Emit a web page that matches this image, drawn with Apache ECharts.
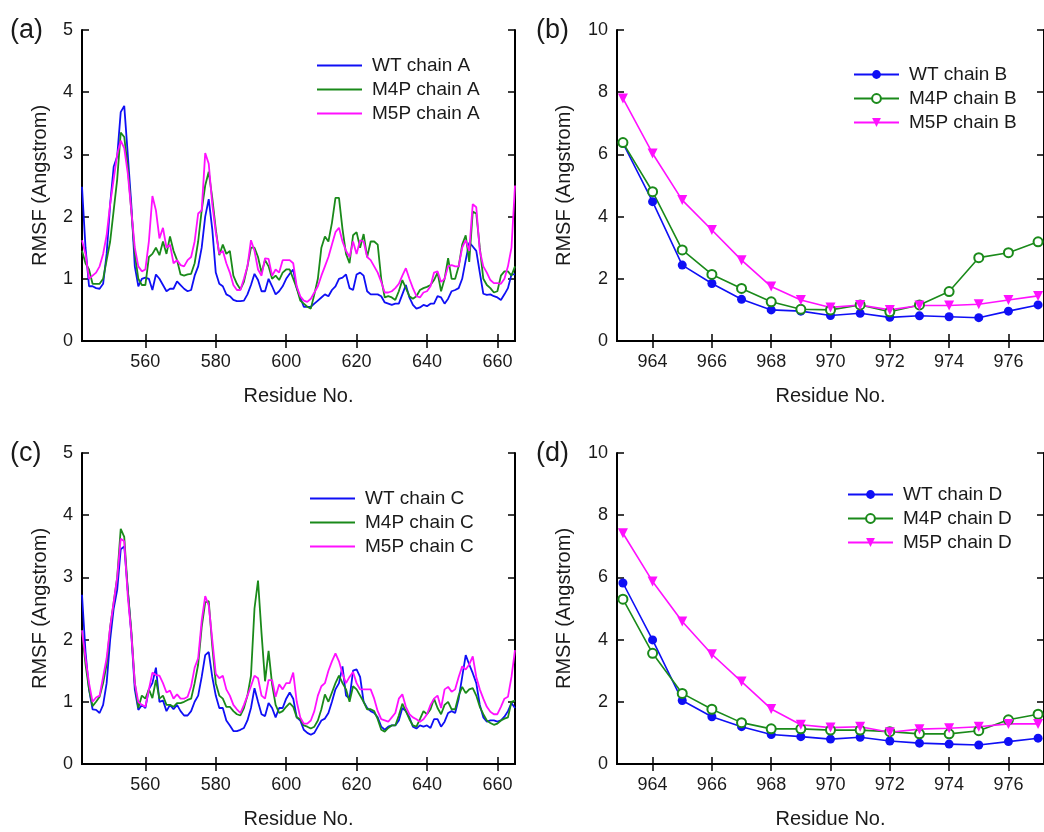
<!DOCTYPE html>
<html>
<head>
<meta charset="utf-8">
<script src="https://cdn.jsdelivr.net/npm/echarts@6/dist/echarts.min.js"></script>
<style>
html,body{margin:0;padding:0;background:#fff;}
#chart{width:1044px;height:832px;}
</style>
</head>
<body>
<div id="chart"></div>
<script>
// ---------------- DATA ----------------
const residueStartAC = 542;           // first residue of panels (a) and (c)
const residueEndAC = 665;
const residuesBD = [963, 964, 965, 966, 967, 968, 969, 970, 971, 972, 973, 974, 975, 976, 977];
const xTicksAC = [560, 580, 600, 620, 640, 660];
const xTicksBD = [964, 966, 968, 970, 972, 974, 976];

const wtA = [
  2.48, 1.5, 0.88, 0.88, 0.85, 0.84, 0.92, 1.4, 2.2, 2.8,
  2.97, 3.68, 3.78, 3.0, 2.2, 1.2, 0.88, 1.0, 1.02, 1.0,
  0.82, 1.07, 1.0, 0.9, 0.8, 0.84, 0.84, 0.96, 0.9, 0.84,
  0.8, 0.82, 1.05, 1.2, 1.5, 2.0, 2.28, 1.8, 1.1, 0.92,
  0.88, 0.75, 0.72, 0.66, 0.64, 0.64, 0.65, 0.75, 0.9, 1.08,
  0.98, 0.8, 0.8, 1.0, 0.88, 0.75, 0.8, 0.88, 1.0, 1.08,
  1.15, 0.85, 0.7, 0.55, 0.55, 0.55, 0.6, 0.65, 0.7, 0.75,
  0.72, 0.82, 0.88, 1.0, 1.02, 1.07, 0.85, 0.82, 1.07, 1.1,
  1.05, 0.8, 0.75, 0.75, 0.75, 0.72, 0.62, 0.6, 0.58, 0.6,
  0.6, 0.75, 0.9, 0.7, 0.58, 0.52, 0.54, 0.58, 0.56, 0.6,
  0.6, 0.72, 0.7, 0.6, 0.68, 0.8, 0.82, 0.85, 1.0, 1.3,
  1.58, 1.52, 1.45, 1.1, 0.76, 0.74, 0.75, 0.72, 0.7, 0.66,
  0.75, 0.85, 1.07, 1.07
];
const m4pA = [
  1.45, 1.25, 1.15, 0.92, 0.92, 0.92, 1.0, 1.3, 1.6, 2.1,
  2.6, 3.35, 3.28, 2.8, 2.1, 1.4, 1.0, 0.9, 0.9, 1.35,
  1.4, 1.5, 1.38, 1.6, 1.4, 1.68, 1.45, 1.3, 1.07, 1.05,
  1.07, 1.08, 1.25, 1.6, 2.1, 2.5, 2.72, 2.3, 1.8, 1.38,
  1.55, 1.4, 1.45, 1.05, 0.92, 0.83, 0.95, 1.2, 1.5, 1.5,
  1.35, 1.1, 1.3, 1.2, 1.0, 1.05, 0.98, 1.1, 1.15, 1.15,
  1.0, 0.85, 0.65, 0.6, 0.55, 0.52, 0.75, 1.0, 1.5, 1.68,
  1.6, 1.9, 2.3, 2.3, 1.8, 1.4, 1.25, 1.7, 1.75, 1.5,
  1.72, 1.35, 1.6, 1.6, 1.55, 1.0, 0.7, 0.72, 0.7, 0.66,
  0.8, 0.98, 0.85, 0.72, 0.68, 0.72, 0.82, 0.85, 0.87, 0.9,
  0.98, 1.1, 0.8, 1.0, 1.33, 1.0, 1.0, 1.2, 1.55, 1.7,
  1.27, 2.08, 2.05, 1.5, 1.0, 0.9, 0.85, 0.78, 0.8, 1.05,
  1.12, 1.12, 1.05, 1.2
];
const m5pA = [
  1.62, 1.4, 1.0, 1.05, 1.1, 1.2, 1.4, 1.7, 2.2, 2.6,
  3.0, 3.22, 3.1, 2.7, 2.1, 1.5, 1.2, 1.12, 1.15, 1.6,
  2.33, 2.1, 1.65, 1.82, 1.5, 1.55, 1.25, 1.3, 1.22, 1.2,
  1.3, 1.35, 1.6, 2.05, 2.1, 3.02, 2.85, 2.2, 1.75, 1.4,
  1.45, 1.25, 1.1, 0.9, 0.82, 0.82, 1.0, 1.2, 1.62, 1.45,
  1.15, 1.05, 1.33, 1.32, 1.05, 1.15, 1.1, 1.3, 1.3, 1.3,
  1.25, 0.88, 0.72, 0.65, 0.63, 0.68, 0.78, 0.88, 1.05, 1.2,
  1.35, 1.55, 1.75, 1.82, 1.6, 1.45, 1.35, 1.6, 1.4, 1.62,
  1.6, 1.35, 1.3, 1.2, 1.1, 0.95, 0.78, 0.78, 0.8, 0.85,
  0.92, 1.05, 1.17, 1.0, 0.85, 0.72, 0.7, 0.78, 0.8, 0.88,
  1.1, 1.12, 0.95, 1.0, 1.2, 1.22, 1.2, 1.2, 1.5, 1.62,
  1.45, 2.2, 2.15, 1.45, 1.2, 1.1, 0.98, 0.93, 0.93, 0.92,
  1.0, 1.2, 1.5, 2.5
];
const wtB  = [6.36, 4.48, 2.44, 1.85, 1.34, 1.0, 0.96, 0.82, 0.89, 0.76, 0.81, 0.78, 0.75, 0.96, 1.16];
const m4pB = [6.38, 4.8, 2.93, 2.14, 1.69, 1.26, 1.02, 1.0, 1.16, 0.94, 1.16, 1.59, 2.68, 2.84, 3.19];
const m5pB = [7.8, 6.03, 4.53, 3.57, 2.6, 1.75, 1.32, 1.08, 1.16, 1.0, 1.14, 1.14, 1.18, 1.32, 1.45];

const wtC = [
  2.72, 1.8, 1.2, 0.88, 0.87, 0.82, 0.95, 1.3, 2.0, 2.5,
  2.8, 3.45, 3.5, 2.8, 2.1, 1.2, 0.87, 0.95, 0.9, 1.2,
  1.3, 1.55, 1.0, 1.02, 0.85, 0.95, 0.88, 0.95, 0.85, 0.78,
  0.78, 0.85, 1.0, 1.1, 1.4, 1.75, 1.8, 1.4, 1.1, 0.9,
  0.9, 0.7, 0.62, 0.53, 0.53, 0.55, 0.58, 0.7, 0.9, 1.22,
  1.0, 0.8, 0.77, 0.98, 0.9, 0.75, 0.9, 0.9, 1.05, 1.15,
  1.05, 0.75, 0.7, 0.55, 0.5, 0.47, 0.5, 0.6, 0.7, 0.73,
  0.82, 1.0, 1.2, 1.3, 1.57, 1.1, 1.05, 1.5, 1.52, 1.4,
  1.0, 0.9, 0.85, 0.82, 0.75, 0.6, 0.55, 0.6, 0.62, 0.62,
  0.7, 0.9, 0.85, 0.75, 0.6, 0.57, 0.62, 0.6, 0.62, 0.58,
  0.72, 0.72, 0.6, 0.68, 0.82, 0.85, 0.82, 1.05, 1.4, 1.75,
  1.6, 1.46, 1.3, 0.95, 0.75, 0.68, 0.7, 0.7, 0.68, 0.7,
  0.76, 0.85, 0.98, 0.9
];
const m4pC = [
  2.15, 1.6, 1.2, 0.93, 1.0, 1.08, 1.3, 1.6, 2.2, 2.6,
  3.0, 3.78, 3.65, 2.8, 2.15, 1.3, 0.9, 1.1, 1.05, 1.2,
  1.06, 1.35, 1.05, 1.1, 0.95, 0.95, 0.92, 0.98, 0.98, 1.0,
  1.03, 1.05, 1.3, 1.6, 2.2, 2.6, 2.62, 1.9, 1.3, 1.1,
  1.05, 0.92, 0.92, 0.85, 0.8, 0.78, 0.9, 1.1, 1.42, 2.5,
  2.95, 2.1, 1.33, 1.82, 1.28, 0.95, 0.82, 0.85, 0.92, 0.98,
  0.92, 0.75, 0.72, 0.62, 0.6, 0.57, 0.6, 0.7, 0.88, 1.12,
  1.0, 1.15, 1.3, 1.42, 1.3, 1.2, 1.0, 1.25, 1.2, 1.1,
  1.0, 0.88, 0.88, 0.85, 0.72, 0.55, 0.52, 0.58, 0.62, 0.62,
  0.78, 0.97, 0.85, 0.72, 0.62, 0.6, 0.72, 0.85, 0.8, 0.88,
  1.05, 0.9, 0.8, 0.95, 1.0, 0.88, 0.88, 1.1, 1.24, 1.14,
  1.2, 1.22, 1.1, 0.92, 0.8, 0.7, 0.66, 0.63, 0.65, 0.7,
  0.73, 0.75, 1.0, 1.02
];
const m5pC = [
  2.15, 1.7, 1.3, 1.0, 1.07, 1.1, 1.4, 1.7, 2.2, 2.6,
  3.0, 3.62, 3.58, 2.7, 2.1, 1.3, 1.0, 0.95, 0.92, 1.2,
  1.47, 1.43, 1.42, 1.3, 1.15, 1.18, 1.05, 1.12, 1.05, 1.05,
  1.08, 1.25, 1.55, 1.7, 2.3, 2.7, 2.55, 2.0, 1.45, 1.38,
  1.42, 1.2, 1.1, 0.95, 0.88, 0.82, 0.95, 1.1, 1.25, 1.42,
  1.38, 1.1, 1.05, 1.35, 1.35, 1.08, 1.28, 1.2, 1.3, 1.3,
  1.47, 1.0, 0.75, 0.65, 0.65, 0.7, 0.85, 1.1, 1.25, 1.3,
  1.5, 1.65, 1.78, 1.65, 1.45, 1.3, 1.4, 1.48, 1.3, 1.2,
  1.2, 1.2, 1.2, 1.05, 0.85, 0.72, 0.7, 0.68, 0.75, 0.82,
  1.05, 1.12, 0.92, 0.8, 0.75, 0.72, 0.68, 0.72, 0.8, 0.95,
  1.05, 1.1, 0.9, 1.2, 1.24, 1.16, 1.2, 1.4, 1.57, 1.52,
  1.6, 1.73, 1.4, 1.2, 1.05, 0.92, 0.84, 0.8, 0.8, 0.92,
  1.05, 1.08, 1.4, 1.83
];
const wtD  = [5.82, 3.99, 2.04, 1.52, 1.2, 0.95, 0.88, 0.8, 0.86, 0.74, 0.67, 0.64, 0.61, 0.72, 0.83];
const m4pD = [5.3, 3.56, 2.27, 1.76, 1.33, 1.13, 1.13, 1.09, 1.09, 1.04, 0.97, 0.97, 1.07, 1.42, 1.6];
const m5pD = [7.42, 5.87, 4.58, 3.53, 2.65, 1.77, 1.26, 1.17, 1.2, 1.02, 1.12, 1.15, 1.2, 1.29, 1.29];

const panelLabels = ['(a)', '(b)', '(c)', '(d)'];
const xAxisTitle = 'Residue No.';
const yAxisTitle = 'RMSF (Angstrom)';

// ---------------- STYLE / LAYOUT ----------------
const BLUE = '#0f0ff5', GREEN = '#1a8a1a', MAGENTA = '#ff10ff';
const FONT = '"Liberation Sans", Arial, Helvetica, sans-serif';
const TXT = '#1a1a1a';

const panels = [
  { grid: { left: 82,  top: 30,  width: 433, height: 311 }, xMin: 542,   xMax: 665,   xTicks: xTicksAC, yMax: 5,  yInt: 1,
    nameGap: 32, lineOnly: true,  legend: { left: 317, top: 56 }, label: { x: 10, y: 33 } },
  { grid: { left: 617, top: 30,  width: 433, height: 311 }, xMin: 962.8, xMax: 977.2, xTicks: xTicksBD, yMax: 10, yInt: 2,
    nameGap: 43, lineOnly: false, legend: { left: 853, top: 65 }, label: { x: 536, y: 33 } },
  { grid: { left: 82,  top: 453, width: 433, height: 311 }, xMin: 542,   xMax: 665,   xTicks: xTicksAC, yMax: 5,  yInt: 1,
    nameGap: 32, lineOnly: true,  legend: { left: 310, top: 489 }, label: { x: 10, y: 456 } },
  { grid: { left: 617, top: 453, width: 433, height: 311 }, xMin: 962.8, xMax: 977.2, xTicks: xTicksBD, yMax: 10, yInt: 2,
    nameGap: 43, lineOnly: false, legend: { left: 847, top: 485 }, label: { x: 536, y: 456 } }
];

const seriesDefs = [
  { panel: 0, name: 'WT chain A',  values: wtA,  color: BLUE,    kind: 'line' },
  { panel: 0, name: 'M4P chain A', values: m4pA, color: GREEN,   kind: 'line' },
  { panel: 0, name: 'M5P chain A', values: m5pA, color: MAGENTA, kind: 'line' },
  { panel: 1, name: 'WT chain B',  values: wtB,  color: BLUE,    kind: 'circle' },
  { panel: 1, name: 'M4P chain B', values: m4pB, color: GREEN,   kind: 'emptyCircle' },
  { panel: 1, name: 'M5P chain B', values: m5pB, color: MAGENTA, kind: 'triDown' },
  { panel: 2, name: 'WT chain C',  values: wtC,  color: BLUE,    kind: 'line' },
  { panel: 2, name: 'M4P chain C', values: m4pC, color: GREEN,   kind: 'line' },
  { panel: 2, name: 'M5P chain C', values: m5pC, color: MAGENTA, kind: 'line' },
  { panel: 3, name: 'WT chain D',  values: wtD,  color: BLUE,    kind: 'circle' },
  { panel: 3, name: 'M4P chain D', values: m4pD, color: GREEN,   kind: 'emptyCircle' },
  { panel: 3, name: 'M5P chain D', values: m5pD, color: MAGENTA, kind: 'triDown' }
];

// ---------------- BUILD OPTION ----------------
const axisLine = { show: true, lineStyle: { color: '#000', width: 2 } };
const grids = [], xAxes = [], yAxes = [], legends = [], graphics = [];

panels.forEach((p, i) => {
  grids.push(Object.assign({ containLabel: false }, p.grid));
  xAxes.push({
    type: 'value', gridIndex: i, position: 'bottom', min: p.xMin, max: p.xMax,
    axisLine: axisLine, splitLine: { show: false },
    axisTick: { inside: true, length: 7, lineStyle: { color: '#000', width: 1.5 }, customValues: p.xTicks },
    axisLabel: { customValues: p.xTicks, fontSize: 18, color: TXT, fontFamily: FONT, margin: 12 },
    name: xAxisTitle, nameLocation: 'middle', nameGap: 45,
    nameTextStyle: { fontSize: 20, color: TXT, fontFamily: FONT }
  });
  xAxes.push({
    type: 'value', gridIndex: i, position: 'top', min: p.xMin, max: p.xMax,
    axisLine: axisLine, splitLine: { show: false },
    axisTick: { inside: true, length: 7, lineStyle: { color: '#000', width: 1.5 }, customValues: p.xTicks },
    axisLabel: { show: false, customValues: p.xTicks }
  });
  yAxes.push({
    type: 'value', gridIndex: i, position: 'left', min: 0, max: p.yMax, interval: p.yInt,
    axisLine: axisLine, splitLine: { show: false },
    axisTick: { inside: true, length: 7, lineStyle: { color: '#000', width: 1.5 } },
    axisLabel: { fontSize: 18, color: TXT, fontFamily: FONT, margin: 9 },
    name: yAxisTitle, nameLocation: 'middle', nameGap: p.nameGap, nameRotate: 90,
    nameTextStyle: { fontSize: 20, color: TXT, fontFamily: FONT }
  });
  yAxes.push({
    type: 'value', gridIndex: i, position: 'right', min: 0, max: p.yMax, interval: p.yInt,
    axisLine: axisLine, splitLine: { show: false },
    axisTick: { inside: true, length: 7, lineStyle: { color: '#000', width: 1.5 } },
    axisLabel: { show: false }
  });
  const lg = {
    orient: 'vertical', left: p.legend.left, top: p.legend.top, padding: 0,
    itemWidth: 45, itemHeight: p.lineOnly ? 2 : 11, itemGap: 5,
    data: seriesDefs.filter(s => s.panel === i).map(s => s.name),
    textStyle: { fontSize: 19, color: TXT, fontFamily: FONT, padding: [0, 0, 0, 5] }
  };
  if (p.lineOnly) lg.icon = 'rect';
  legends.push(lg);
  graphics.push({
    type: 'text', left: p.label.x, top: p.label.y - 16,
    style: { text: panelLabels[i], fontSize: 27, fill: TXT, fontFamily: FONT }
  });
});

const series = seriesDefs.map(s => {
  const isAC = (s.panel === 0 || s.panel === 2);
  const data = isAC
    ? s.values.map((v, k) => [residueStartAC + k, v])
    : s.values.map((v, k) => [residuesBD[k], v]);
  const base = {
    type: 'line', name: s.name, data: data,
    xAxisIndex: s.panel * 2, yAxisIndex: s.panel * 2,
    lineStyle: { color: s.color, width: isAC ? 1.8 : 1.6 },
    itemStyle: { color: s.color },
    color: s.color,
    animation: false, clip: true, emphasis: { disabled: true }
  };
  if (isAC) {
    base.symbol = 'none';
    base.showSymbol = false;
  } else if (s.kind === 'circle') {
    base.symbol = 'circle'; base.symbolSize = 9;
  } else if (s.kind === 'emptyCircle') {
    base.symbol = 'emptyCircle'; base.symbolSize = 9;
    base.itemStyle = { color: s.color, borderColor: s.color, borderWidth: 1.5 };
  } else {
    base.symbol = 'triangle'; base.symbolRotate = 180; base.symbolSize = 10;
  }
  return base;
});

const option = {
  backgroundColor: '#fff',
  animation: false,
  grid: grids, xAxis: xAxes, yAxis: yAxes, legend: legends,
  graphic: graphics, series: series
};

const chart = echarts.init(document.getElementById('chart'), null, { renderer: 'canvas' });
chart.setOption(option);
</script>
</body>
</html>
